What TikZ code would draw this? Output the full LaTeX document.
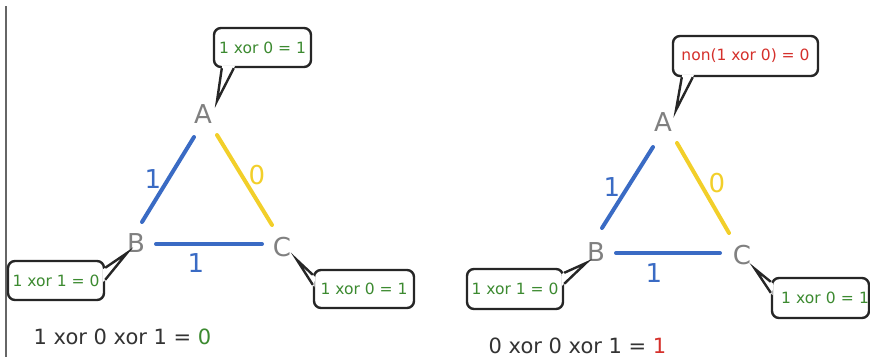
\documentclass[tikz,border=0pt]{standalone}
\usepackage{fontspec}
\setmainfont{DejaVu Sans}
\usetikzlibrary{calc}
\definecolor{edgeblue}{HTML}{3A6BC4}
\definecolor{edgeyellow}{HTML}{F2CF2A}
\definecolor{vertexgray}{HTML}{808080}
\definecolor{okgreen}{HTML}{3C8A30}
\definecolor{badred}{HTML}{D5302B}
\definecolor{textgray}{HTML}{333333}
\tikzset{
  vertex/.style={text=vertexgray, font=\fontsize{26}{26}\selectfont, inner sep=0pt},
  edgelbl/.style={font=\fontsize{26}{26}\selectfont, inner sep=0pt},
  bluelink/.style={draw=edgeblue, line width=4pt, line cap=round},
  yellowlink/.style={draw=edgeyellow, line width=4pt, line cap=round},
  bubble/.style={draw=black!85, fill=white, line width=2.4pt, rounded corners=7pt,
    inner sep=0pt, font=\fontsize{15.5}{15.5}\selectfont},
  tailside/.style={draw=black!85, line width=2.4pt, line join=miter},
  result/.style={font=\fontsize{21}{21}\selectfont, text=textgray, inner sep=0pt},
}
% speech-bubble tail: #1 = first base point, #2 = tip, #3 = second base point
\newcommand{\bubbletail}[3]{%
  \fill[white] ($(#1)!-3pt!(#2)$) -- (#2) -- ($(#3)!-3pt!(#2)$) -- cycle;
  \draw[tailside] (#1) -- (#2) -- (#3);
}
\begin{document}
\begin{tikzpicture}[x=1pt,y=-1pt]
\useasboundingbox (0,0) rectangle (870,357);

% separator rule on the left
\draw[draw=black!60, line width=2pt] (5.5,6) -- (5.5,357);

% ---------- left triangle ----------
\node[vertex] (A1) at (203,114) {A};
\node[vertex] (B1) at (136,243) {B};
\node[vertex] (C1) at (282,247) {C};

\draw[bluelink]   ([shift={(-9,23)}]A1.center) -- ([shift={(6,-21)}]B1.center);
\draw[yellowlink] ([shift={(14,21)}]A1.center) -- ([shift={(-10,-22)}]C1.center);
\draw[bluelink]   ([shift={(20,1)}]B1.center)  -- ([shift={(-20,-3)}]C1.center);

\node[edgelbl, text=edgeblue]   (ab1) at (153,179) {1};
\node[edgelbl, text=edgeyellow] (ac1) at (257,175) {0};
\node[edgelbl, text=edgeblue]   (bc1) at (196,263) {1};

\node[bubble, minimum width=97pt, minimum height=39pt, text=okgreen] (sA1) at (262.5,47.5) {1 xor 0 = 1};
\node[bubble, minimum width=96pt, minimum height=39pt, text=okgreen] (sB1) at (56,280.5) {1 xor 1 = 0};
\node[bubble, minimum width=100pt, minimum height=38pt, text=okgreen] (sC1) at (364,289) {1 xor 0 = 1};

\coordinate (tA1) at (217,101);
\coordinate (tB1) at (127,253);
\coordinate (tC1) at (297,260);
\bubbletail{$(sA1.south west)+(9,0)$}{tA1}{$(sA1.south west)+(21,0)$}
\bubbletail{$(sB1.north east)+(0,8)$}{tB1}{$(sB1.north east)+(0,20)$}
\bubbletail{$(sC1.north west)+(0,6)$}{tC1}{$(sC1.north west)+(0,16)$}

\node[result] (r1) at (122.5,337) {1 xor 0 xor 1 = \textcolor{okgreen}{0}};

% ---------- right triangle ----------
\node[vertex] (A2) at (663,122) {A};
\node[vertex] (B2) at (596,252) {B};
\node[vertex] (C2) at (742,255) {C};

\draw[bluelink]   ([shift={(-10,25)}]A2.center) -- ([shift={(6,-24)}]B2.center);
\draw[yellowlink] ([shift={(14,21)}]A2.center)  -- ([shift={(-13,-22)}]C2.center);
\draw[bluelink]   ([shift={(20,1)}]B2.center)   -- ([shift={(-22,-2)}]C2.center);

\node[edgelbl, text=edgeblue]   (ab2) at (612,187) {1};
\node[edgelbl, text=edgeyellow] (ac2) at (717,183) {0};
\node[edgelbl, text=edgeblue]   (bc2) at (654,273) {1};

\node[bubble, minimum width=145pt, minimum height=40pt, text=badred] (sA2) at (745.5,56) {non(1 xor 0) = 0};
\node[bubble, minimum width=96pt, minimum height=40pt, text=okgreen] (sB2) at (515,289) {1 xor 1 = 0};
\node[bubble, minimum width=97pt, minimum height=40pt, text=okgreen, text width=97pt, align=right] (sC2) at (820.5,298) {1 xor 0 = 1};

\coordinate (tA2) at (676,110);
\coordinate (tB2) at (586,263);
\coordinate (tC2) at (755,269);
\bubbletail{$(sA2.south west)+(10,0)$}{tA2}{$(sA2.south west)+(21,0)$}
\bubbletail{$(sB2.north east)+(0,5)$}{tB2}{$(sB2.north east)+(0,16)$}
\bubbletail{$(sC2.north west)+(0,5)$}{tC2}{$(sC2.north west)+(0,16)$}

\node[result] (r2) at (577.5,345.5) {0 xor 0 xor 1 = \textcolor{badred}{1}};
\end{tikzpicture}
\end{document}
